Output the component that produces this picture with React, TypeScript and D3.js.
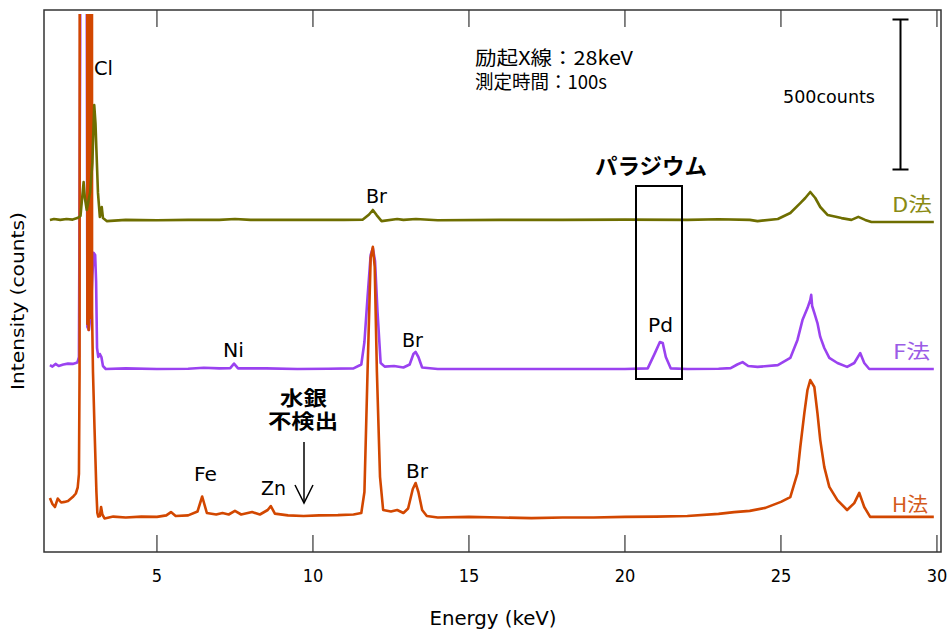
import React from "react";
import * as d3 from "d3";

// ---- data ----
const TICKS = [5, 10, 15, 20, 25, 30];
const OFFSETS = { H: 0, F: 500, D: 1000 };
const SCALE_BAR_COUNTS = 500;

const ENERGY_H = [1.57, 1.65, 1.73, 1.82, 1.93, 2.04, 2.15, 2.3, 2.4, 2.46, 2.5, 2.52, 2.55, 2.75, 2.77, 2.79, 2.81, 2.83, 2.85, 2.87, 2.9, 2.92, 2.95, 3.0, 3.06, 3.09, 3.12, 3.17, 3.21, 3.25, 3.32, 3.6, 4.0, 4.5, 5.0, 5.3, 5.45, 5.6, 6.0, 6.3, 6.45, 6.6, 6.9, 7.1, 7.3, 7.5, 7.7, 8.05, 8.3, 8.55, 8.65, 8.78, 9.2, 9.7, 10.2, 10.8, 11.3, 11.55, 11.65, 11.75, 11.85, 11.92, 11.98, 12.05, 12.15, 12.25, 12.5, 12.7, 12.9, 13.05, 13.2, 13.29, 13.38, 13.5, 13.65, 14.0, 15, 16, 17, 18, 19, 20, 21, 22, 23, 23.5, 24, 24.5, 25.0, 25.3, 25.53, 25.62, 25.75, 25.85, 25.94, 26.07, 26.17, 26.26, 26.39, 26.55, 26.81, 27.12, 27.35, 27.51, 27.67, 27.86, 29.9];
const COUNTS_H = [180, 160, 150, 178, 165, 167, 170, 183, 195, 215, 260, 600, 9000, 9000, 760, 9000, 740, 9000, 780, 9000, 9000, 800, 600, 410, 200, 130, 118, 120, 150, 125, 112, 118, 115, 118, 117, 122, 133, 120, 122, 135, 185, 130, 125, 130, 125, 137, 125, 133, 125, 140, 153, 128, 122, 120, 122, 123, 125, 130, 200, 600, 980, 1017, 950, 600, 250, 140, 135, 140, 130, 145, 210, 230, 200, 140, 120, 115, 117, 115, 113, 115, 115, 117, 118, 120, 127, 133, 137, 147, 167, 183, 263, 350, 463, 540, 573, 550, 463, 373, 283, 217, 173, 140, 163, 197, 150, 117, 117];

const ENERGY_F = [1.57, 1.65, 1.75, 1.85, 2.0, 2.15, 2.3, 2.45, 2.5, 2.54, 2.58, 2.7, 2.74, 2.77, 2.82, 2.88, 2.93, 2.97, 3.02, 3.05, 3.08, 3.12, 3.17, 3.22, 3.27, 3.36, 4.0, 5.0, 6.0, 6.5, 7.0, 7.35, 7.47, 7.6, 8.5, 9.5, 10.5, 11.3, 11.55, 11.65, 11.75, 11.85, 11.92, 11.99, 12.07, 12.17, 12.3, 12.6, 12.9, 13.1, 13.22, 13.29, 13.38, 13.5, 14, 16, 18, 20, 20.73, 20.96, 21.12, 21.21, 21.31, 21.47, 22, 23.0, 23.39, 23.6, 23.77, 23.95, 24.25, 24.9, 25.3, 25.53, 25.69, 25.85, 25.94, 25.97, 26.0, 26.07, 26.17, 26.26, 26.39, 26.55, 26.81, 27.12, 27.35, 27.54, 27.67, 27.83, 29.9];
const COUNTS_F = [123, 118, 127, 120, 125, 128, 127, 132, 150, 1200, 9000, 9000, 2000, 250, 240, 300, 420, 497, 490, 400, 180, 150, 160, 150, 120, 110, 112, 110, 111, 114, 112, 113, 128, 112, 112, 110, 111, 112, 125, 200, 350, 490, 513, 470, 300, 130, 118, 120, 115, 125, 160, 167, 150, 115, 110, 110, 110, 110, 112, 163, 200, 197, 150, 112, 110, 111, 113, 125, 133, 120, 117, 123, 147, 207, 273, 313, 340, 357, 320, 297, 263, 217, 180, 147, 130, 117, 130, 163, 130, 110, 110];

const ENERGY_D = [1.57, 1.7, 1.9, 2.1, 2.3, 2.45, 2.55, 2.62, 2.65, 2.69, 2.75, 2.86, 2.93, 2.99, 3.03, 3.06, 3.11, 3.17, 3.23, 3.27, 3.39, 4, 5, 6, 7, 7.5, 8, 9, 10, 11, 11.6, 11.8, 11.92, 12.04, 12.2, 12.7, 12.9, 13.3, 14, 16, 18, 20, 22, 23, 24, 24.25, 24.9, 25.3, 25.62, 25.78, 25.94, 26.1, 26.26, 26.5, 26.94, 27.26, 27.48, 27.7, 27.9, 29.9];
const COUNTS_D = [107, 110, 107, 110, 108, 113, 120, 200, 233, 180, 140, 200, 297, 490, 430, 340, 197, 117, 150, 113, 103, 107, 106, 107, 107, 110, 107, 107, 107, 107, 108, 125, 140, 123, 103, 110, 107, 110, 106, 107, 107, 108, 107, 109, 107, 103, 110, 130, 163, 180, 200, 180, 150, 123, 113, 107, 117, 107, 100, 100];

const COLORS = { H: "#d24700", F: "#9a42f0", D: "#6e6e00" };
const LABEL_COLORS = { H: "#d45a1c", F: "#9b5ce6", D: "#8a8a14" };

const W = 950, H = 629;
const L = 44, R = 941, T = 10, B = 552;

export default function App() {
  const x = d3.scaleLinear().domain([1.38, 30.13]).range([L, R]);
  const y = d3.scaleLinear().domain([0, 500]).range([B, B - 150]);

  const mk = (e: number[], c: number[], off: number) =>
    d3.line<number>().x((_, i) => x(e[i])).y((_, i) => y(c[i] + off))(c) || "";

  const series = [
    { key: "F", d: mk(ENERGY_F, COUNTS_F, OFFSETS.F) },
    { key: "H", d: mk(ENERGY_H, COUNTS_H, OFFSETS.H) },
    { key: "D", d: mk(ENERGY_D, COUNTS_D, OFFSETS.D) },
  ];

  const sbTop = y(1775);
  const sbBot = y(1775 - SCALE_BAR_COUNTS);
  const sbX = 900.5;

  const lab = "DejaVu Sans, Verdana, sans-serif";
  const jp = "Noto Sans CJK JP, sans-serif";
  const cond = "DejaVu Sans Condensed, DejaVu Sans, sans-serif";

  return (
    <svg width={W} height={H} style={{ position: "absolute", left: 0, top: 0, background: "#fff" }}>
      <defs>
        <clipPath id="plot">
          <rect x={L} y={14} width={R - L} height={B - 14} />
        </clipPath>
      </defs>
      <rect x={0} y={0} width={W} height={H} fill="#fff" />
      {/* traces */}
      <g clipPath="url(#plot)">
        {series.map((s) => (
          <path key={s.key} d={s.d} fill="none" stroke={(COLORS as any)[s.key]} strokeWidth={2.6} strokeLinejoin="round" />
        ))}
      </g>
      {/* frame */}
      <rect x={L} y={T} width={R - L} height={B - T} fill="none" stroke="#333" strokeWidth={1.5} />
      {TICKS.map((t) => (
        <g key={t}>
          <line x1={x(t)} x2={x(t)} y1={B} y2={B - 17} stroke="#333" strokeWidth={1.2} />
          <line x1={x(t)} x2={x(t)} y1={T} y2={T + 17} stroke="#333" strokeWidth={1.2} />
          <text x={x(t)} y={582} textAnchor="middle" fontFamily={cond} fontSize={18} fill="#000">{t}</text>
        </g>
      ))}
      <text x={493} y={625} textAnchor="middle" fontFamily={cond} fontSize={20} textLength={127} lengthAdjust="spacingAndGlyphs">Energy (keV)</text>
      <text transform="translate(24,301) rotate(-90)" textAnchor="middle" fontFamily={cond} fontSize={18} textLength={178} lengthAdjust="spacingAndGlyphs">Intensity (counts)</text>

      {/* scale bar */}
      <line x1={sbX} x2={sbX} y1={sbTop} y2={sbBot} stroke="#000" strokeWidth={2} />
      <line x1={sbX - 8} x2={sbX + 8} y1={sbTop} y2={sbTop} stroke="#000" strokeWidth={2} />
      <line x1={sbX - 8} x2={sbX + 8} y1={sbBot} y2={sbBot} stroke="#000" strokeWidth={2} />
      <text x={783} y={103} fontFamily={lab} fontSize={17} textLength={92} lengthAdjust="spacingAndGlyphs">500counts</text>

      {/* conditions */}
      <text x={475} y={65} fontFamily={jp} fontSize={19} textLength={158} lengthAdjust="spacingAndGlyphs">励起X線：28keV</text>
      <text x={475} y={89} fontFamily={jp} fontSize={19} textLength={132} lengthAdjust="spacingAndGlyphs">測定時間：100s</text>

      {/* element labels */}
      <g fontFamily={lab} fontSize={19} fill="#000">
        <text x={94} y={75} textLength={19} lengthAdjust="spacingAndGlyphs">Cl</text>
        <text x={366} y={203} textLength={21} lengthAdjust="spacingAndGlyphs">Br</text>
        <text x={402} y={347} textLength={21} lengthAdjust="spacingAndGlyphs">Br</text>
        <text x={223} y={357} textLength={21} lengthAdjust="spacingAndGlyphs">Ni</text>
        <text x={648} y={332} textLength={25} lengthAdjust="spacingAndGlyphs">Pd</text>
        <text x={194} y={481} textLength={23} lengthAdjust="spacingAndGlyphs">Fe</text>
        <text x={261} y={495} textLength={25} lengthAdjust="spacingAndGlyphs">Zn</text>
        <text x={406} y={478} textLength={22} lengthAdjust="spacingAndGlyphs">Br</text>
      </g>

      {/* palladium box */}
      <text x={595} y={174} fontFamily={jp} fontWeight="bold" fontSize={22} textLength={112} lengthAdjust="spacingAndGlyphs">パラジウム</text>
      <rect x={636} y={186} width={46} height={193} fill="none" stroke="#000" strokeWidth={2} />

      {/* mercury not detected */}
      <text x={280} y={406} fontFamily={jp} fontWeight="bold" fontSize={20} textLength={47} lengthAdjust="spacingAndGlyphs">水銀</text>
      <text x={268} y={429} fontFamily={jp} fontWeight="bold" fontSize={20} textLength={70} lengthAdjust="spacingAndGlyphs">不検出</text>
      <line x1={304} x2={304} y1={442} y2={503} stroke="#000" strokeWidth={1.5} />
      <polyline points="295,485 304,503 313,485" fill="none" stroke="#000" strokeWidth={1.5} />

      {/* method labels */}
      <text x={892} y={212} fontFamily={jp} fontSize={20} fill={LABEL_COLORS.D} textLength={40} lengthAdjust="spacingAndGlyphs">D法</text>
      <text x={893} y={359} fontFamily={jp} fontSize={20} fill={LABEL_COLORS.F} textLength={37} lengthAdjust="spacingAndGlyphs">F法</text>
      <text x={892} y={512} fontFamily={jp} fontSize={20} fill={LABEL_COLORS.H} textLength={36} lengthAdjust="spacingAndGlyphs">H法</text>
    </svg>
  );
}
